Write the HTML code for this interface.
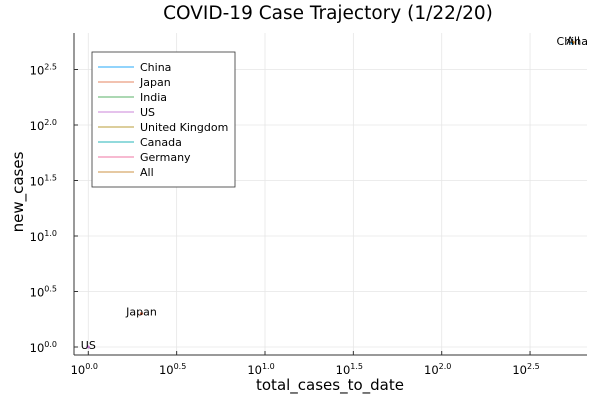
<!DOCTYPE html>
<html><head><meta charset="utf-8"><style>
html,body{margin:0;padding:0;background:#fff;}
svg{display:block;font-family:"DejaVu Sans","Liberation Sans",sans-serif;}
</style></head><body>
<svg id="chart" width="600" height="400" viewBox="0 0 600 400" xmlns="http://www.w3.org/2000/svg">
<rect width="600" height="400" fill="#fff"/>
<text x="328" y="19" font-size="18.5" text-anchor="middle" fill="#000">COVID-19 Case Trajectory (1/22/20)</text>
<g id="grid"></g>
<g id="axes"></g>
<g id="marks"></g>
<text x="330" y="390" font-size="15" text-anchor="middle">total_cases_to_date</text>
<text transform="translate(23,192) rotate(-90)" font-size="15" text-anchor="middle">new_cases</text>
<g id="legend"></g>
</svg>
<script>
const seriesNames = ["China","Japan","India","US","United Kingdom","Canada","Germany","All"];
const seriesColors = ["#009af9","#e26f46","#3da44d","#c271d2","#ac8d18","#00a9ad","#ed5e93","#c68125"];
const totalCases = [548, 2, 0, 1, 0, 0, 0, 555];
const newCases = [548, 2, 0, 1, 0, 0, 0, 555];
const tickExps = [0.0, 0.5, 1.0, 1.5, 2.0, 2.5];
const tickLabels = ["0.0","0.5","1.0","1.5","2.0","2.5"];

const NS = "http://www.w3.org/2000/svg";
const X0 = 74, X1 = 587, Y0 = 33, Y1 = 355;
function xs(v){ return 88.3 + 176.7 * Math.log10(v); }
function ys(v){ return 347 - 111 * Math.log10(v); }
function xe(e){ return 88.3 + 176.7 * e; }
function ye(e){ return 347 - 111 * e; }
function mk(tag, attrs, parent){ const el = document.createElementNS(NS, tag); for (const k in attrs) el.setAttribute(k, attrs[k]); parent.appendChild(el); return el; }

const grid = document.getElementById("grid"), axes = document.getElementById("axes"), marks = document.getElementById("marks"), legend = document.getElementById("legend");
tickExps.forEach((e, i) => {
  const gx = mk("line", {x1: xe(e), x2: xe(e), y1: Y0, y2: Y1, stroke: "#e6e6e6", "stroke-width": 0.8}, grid);
  
  
  const gy = mk("line", {x1: X0, x2: X1, y1: ye(e), y2: ye(e), stroke: "#e6e6e6", "stroke-width": 0.8}, grid);
  
  
  const tx = mk("line", {x1: xe(e), x2: xe(e), y1: Y1, y2: Y1 - 4, stroke: "#333"}, axes);
  
  
  const ty = mk("line", {x1: X0, x2: X0 + 4, y1: ye(e), y2: ye(e), stroke: "#333"}, axes);
  
  
  const lx = mk("text", {x: xe(e) - 4, y: 374, "font-size": 11.5, "text-anchor": "middle"}, axes);
  lx.innerHTML = '10<tspan font-size="8" dy="-5">' + tickLabels[i] + '</tspan>';
  
  
  const ly = mk("text", {x: 57, y: ye(e) + 5, "font-size": 11.5, "text-anchor": "end"}, axes);
  ly.innerHTML = '10<tspan font-size="8" dy="-5">' + tickLabels[i] + '</tspan>';
  
  
});
const ax = mk("line", {x1: X0, x2: X1, y1: Y1, y2: Y1, stroke: "#333"}, axes);


const ay = mk("line", {x1: X0, x2: X0, y1: Y0, y2: Y1, stroke: "#333"}, axes);



seriesNames.forEach((n, i) => {
  if (totalCases[i] > 0 && newCases[i] > 0) {
    const px = xs(totalCases[i]), py = ys(newCases[i]);
    const c = mk("circle", {cx: px, cy: py, r: 1.5, fill: seriesColors[i]}, marks);
    
    
    const t = mk("text", {x: px, y: py + 2, "font-size": 11, "text-anchor": "middle"}, marks);
    t.textContent = n;
    
    
  }
});

const box = mk("rect", {x: 92, y: 52, width: 143, height: 135, fill: "#fff", stroke: "#333", "stroke-width": 0.8}, legend);


seriesNames.forEach((n, i) => {
  const y = 67 + i * 15;
  const l = mk("line", {x1: 98, x2: 134, y1: y, y2: y, stroke: seriesColors[i], "stroke-width": 1, opacity: 0.85}, legend);
  
  
  const t = mk("text", {x: 140, y: y + 4, "font-size": 11}, legend);
  t.textContent = n;
  
  
});
</script>
</body></html>
